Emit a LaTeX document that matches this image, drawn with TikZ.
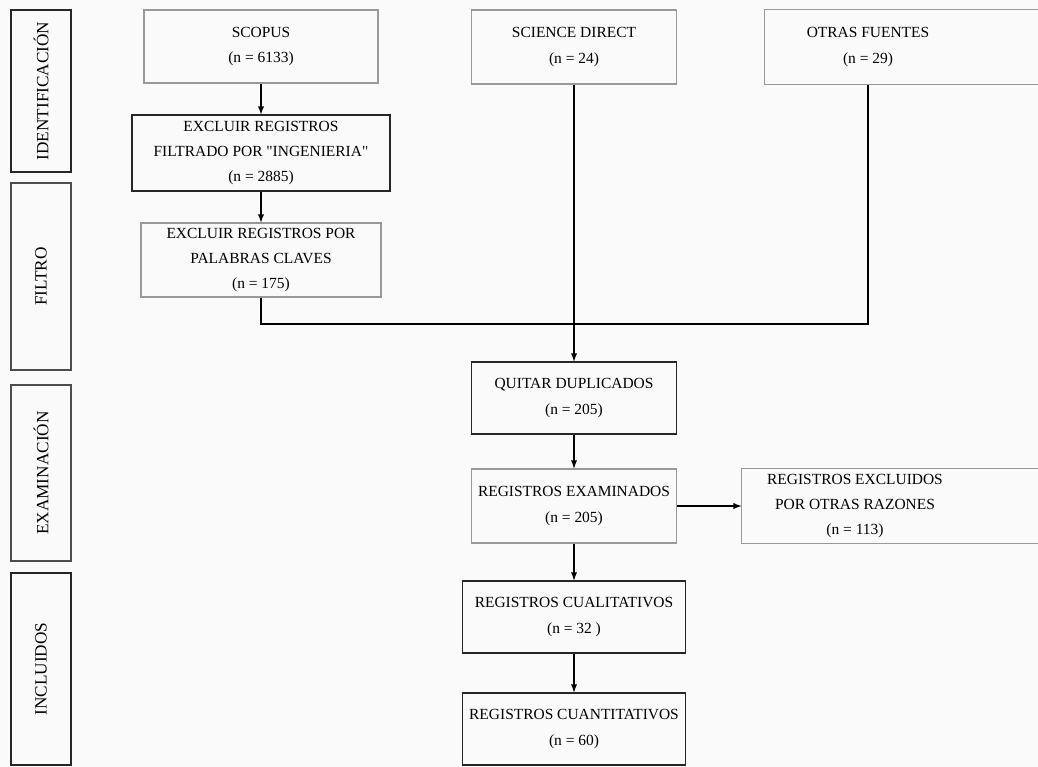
\documentclass[tikz,border=0pt]{standalone}
\usepackage{fontspec}
\setmainfont{Liberation Serif}
\usetikzlibrary{calc}
\usetikzlibrary{arrows.meta}
\tikzset{>=latex}
\newcommand{\pxu}{0.02cm}
\tikzset{caja/.style = {shape=rectangle,draw=black!85,line width=0.6pt,align=center,inner sep=1pt,font=\fontsize{8.8}{14.3}\selectfont}}
\tikzset{cajagris/.style = {caja,draw=black!40}}
\tikzset{etapa/.style = {caja,rotate=90,font=\fontsize{9.8}{12}\selectfont,minimum height=60*\pxu}}
\tikzset{tam/.style 2 args = {minimum width=#1*\pxu,minimum height=#2*\pxu}}
\tikzset{flecha/.style = {->,line width=0.6pt}}

\begin{document}
\begin{tikzpicture}[x=0.02cm,y=-0.02cm]
                \fill[black!2] (0,0) rectangle (1038,767);
                \clip (0,0) rectangle (1038,767);

                % etapas
                \node[etapa,minimum width=162*\pxu] (ident) at (41,91) {IDENTIFICACIÓN};
                \node[etapa,minimum width=187*\pxu,draw=black!70] (filtro) at (41,276.5) {FILTRO};
                \node[etapa,minimum width=176*\pxu,draw=black!70] (exam) at (41,473) {EXAMINACIÓN};
                \node[etapa,minimum width=192*\pxu] (incl) at (41,669) {INCLUIDOS};

                % fuentes
                \node[cajagris,tam={234}{73}] (scopus) at (261,46.5) {SCOPUS\\(n = 6133)};
                \node[caja,tam={258}{76}] (excl1) at (261,153) {EXCLUIR REGISTROS\\FILTRADO POR \textquotedbl INGENIERIA\textquotedbl\\(n = 2885)};
                \node[cajagris,tam={240}{74}] (excl2) at (261,260) {EXCLUIR REGISTROS POR\\PALABRAS CLAVES\\(n = 175)};
                \node[cajagris,tam={205}{74}] (sd) at (574,47) {SCIENCE DIRECT\\(n = 24)};
                \node[cajagris,draw=none,tam={206}{74}] (otras) at (868,47) {OTRAS FUENTES\\(n = 29)};
                \draw[black!40,line width=0.6pt] ($(otras.north east)+(80,0)$) -- (otras.north west) -- (otras.south west) -- ($(otras.south east)+(80,0)$);

                % seleccion
                \node[caja,tam={205}{72}] (quitar) at (574,398) {QUITAR DUPLICADOS\\(n = 205)};
                \node[cajagris,tam={205}{74}] (examinados) at (574,506) {REGISTROS EXAMINADOS\\(n = 205)};
                \node[cajagris,draw=none,tam={226}{74}] (excluidos) at (855,506) {REGISTROS EXCLUIDOS\\POR OTRAS RAZONES\\(n = 113)};
                \draw[black!40,line width=0.6pt] ($(excluidos.north east)+(80,0)$) -- (excluidos.north west) -- (excluidos.south west) -- ($(excluidos.south east)+(80,0)$);
                \node[caja,tam={223}{72}] (cualit) at (574,617) {REGISTROS CUALITATIVOS\\(n = 32 )};
                \node[caja,tam={223}{72}] (cuantit) at (574,729) {REGISTROS CUANTITATIVOS\\(n = 60)};

                \coordinate (union) at (868,324);

                \draw[flecha] (scopus) -- (excl1);
                \draw[flecha] (excl1) -- (excl2);
                \draw[line width=0.6pt] (excl2.south) |- (union) -- (otras.south);
                \draw[flecha] (sd) -- (quitar);
                \draw[flecha] (quitar) -- (examinados);
                \draw[flecha] (examinados) -- (excluidos);
                \draw[flecha] (examinados) -- (cualit);
                \draw[flecha] (cualit) -- (cuantit);
            \end{tikzpicture}
\end{document}
